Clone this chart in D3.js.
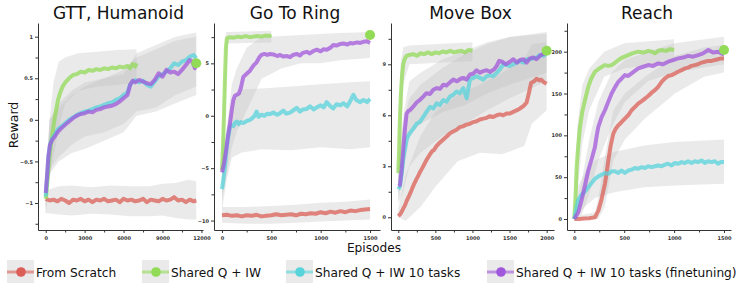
<!DOCTYPE html>
<html>
<head>
<meta charset="utf-8">
<script src="https://cdn.jsdelivr.net/npm/d3@7"></script>
<style>
  body { margin: 0; background: #fff; }
  svg { display: block; font-family: "DejaVu Sans", sans-serif; }
</style>
</head>
<body>
<svg id="chart" width="747" height="296"></svg>
<script>
const seriesNames = ['From Scratch', 'Shared Q + IW', 'Shared Q + IW 10 tasks', 'Shared Q + IW 10 tasks (finetuning)'];
const seriesColors = ['#db5f57', '#91db57', '#57d3db', '#a157db'];
const panelTitles = ['GTT, Humanoid', 'Go To Ring', 'Move Box', 'Reach'];

// ---- GTT, Humanoid : [episode, reward] and bands [episode, low, high]
const gttScratch = [[0,-0.95],[300,-0.97],[600,-0.96],[900,-0.98],[1200,-0.95],[1500,-0.97],[1800,-1.0],[2100,-0.96],[2400,-0.97],[2700,-0.95],[3000,-0.98],[3300,-0.96],[3600,-0.99],[3900,-0.96],[4200,-0.97],[4500,-0.95],[4800,-0.98],[5100,-0.97],[5400,-0.96],[5700,-0.99],[6000,-0.95],[6300,-0.97],[6600,-0.96],[6900,-0.98],[7200,-0.97],[7500,-0.95],[7800,-0.99],[8100,-0.96],[8400,-0.97],[8700,-0.98],[9000,-0.95],[9300,-0.97],[9600,-0.96],[9900,-0.93],[10200,-0.97],[10500,-0.96],[10800,-0.99],[11100,-0.96],[11400,-0.98],[11600,-0.97]];
const gttScratchBand = [[0,-1.12,-0.85],[1000,-1.14,-0.8],[2000,-1.15,-0.79],[3500,-1.13,-0.81],[5000,-1.14,-0.79],[6500,-1.16,-0.8],[8000,-1.16,-0.8],[9000,-1.15,-0.77],[10000,-1.18,-0.76],[11000,-1.2,-0.72],[11600,-1.2,-0.74]];
const gttShared = [[0,-0.95],[100,-0.8],[200,-0.6],[300,-0.42],[400,-0.3],[500,-0.18],[650,-0.02],[800,0.12],[950,0.24],[1100,0.32],[1300,0.4],[1500,0.45],[1800,0.5],[2100,0.54],[2400,0.55],[2700,0.58],[3000,0.57],[3300,0.6],[3600,0.59],[3900,0.61],[4200,0.6],[4500,0.62],[4800,0.61],[5100,0.63],[5400,0.62],[5700,0.64],[6000,0.63],[6300,0.65],[6500,0.62],[6700,0.67],[6900,0.64],[7000,0.68]];
const gttSharedBand = [[0,-1.05,-0.8],[300,-0.7,0.0],[600,-0.45,0.45],[1000,-0.1,0.7],[1500,0.2,0.75],[2500,0.35,0.8],[4000,0.4,0.82],[5500,0.42,0.84],[7000,0.45,0.85]];
const gttTen = [[0,-0.92],[100,-0.7],[200,-0.45],[330,-0.3],[500,-0.22],[700,-0.18],[900,-0.12],[1200,-0.08],[1500,-0.04],[1800,0.0],[2100,0.03],[2400,0.06],[2700,0.08],[3000,0.1],[3300,0.11],[3600,0.13],[3900,0.15],[4200,0.16],[4500,0.18],[4800,0.2],[5100,0.21],[5400,0.24],[5700,0.26],[6000,0.3],[6300,0.33],[6500,0.42],[6700,0.46],[6900,0.48],[7200,0.45],[7500,0.47],[7800,0.42],[8100,0.4],[8400,0.46],[8700,0.52],[9000,0.55],[9300,0.58],[9600,0.62],[9900,0.68],[10200,0.66],[10500,0.7],[10800,0.72],[11100,0.76],[11400,0.78],[11600,0.74]];
const gttTenBand = [[0,-1.1,-0.75],[300,-0.6,0.0],[1000,-0.45,0.15],[2000,-0.3,0.3],[3000,-0.2,0.4],[4500,-0.15,0.5],[6000,-0.05,0.6],[7000,0.1,0.75],[8500,0.15,0.85],[10000,0.3,0.95],[11600,0.4,1.0]];
const gttFinetune = [[0,-0.88],[100,-0.68],[200,-0.45],[330,-0.3],[500,-0.24],[700,-0.2],[900,-0.15],[1200,-0.1],[1500,-0.06],[1800,-0.02],[2100,0.02],[2400,0.05],[2700,0.07],[3000,0.08],[3300,0.1],[3600,0.09],[3900,0.12],[4200,0.13],[4500,0.15],[4800,0.16],[5100,0.17],[5400,0.19],[5700,0.22],[6000,0.26],[6300,0.3],[6500,0.42],[6700,0.47],[6900,0.45],[7200,0.48],[7500,0.46],[7800,0.44],[8100,0.43],[8400,0.48],[8700,0.56],[9000,0.52],[9300,0.6],[9600,0.57],[9900,0.58],[10200,0.55],[10500,0.6],[10800,0.66],[11100,0.72],[11300,0.7],[11500,0.62],[11600,0.68]];
const gttFinetuneBand = [[0,-1.15,-0.7],[300,-0.65,0.0],[1000,-0.5,0.2],[2000,-0.4,0.35],[3000,-0.35,0.45],[4500,-0.25,0.5],[6000,-0.15,0.55],[7000,0.05,0.8],[8500,0.1,0.9],[10000,0.2,1.0],[11600,0.3,1.05]];

// ---- Go To Ring
const ringScratch = [[0,-9.5],[50,-9.45],[100,-9.55],[150,-9.5],[200,-9.6],[250,-9.5],[300,-9.55],[350,-9.45],[400,-9.6],[450,-9.55],[500,-9.5],[550,-9.4],[600,-9.5],[650,-9.45],[700,-9.4],[750,-9.5],[800,-9.35],[850,-9.4],[900,-9.3],[950,-9.35],[1000,-9.2],[1050,-9.3],[1100,-9.15],[1150,-9.25],[1200,-9.1],[1250,-9.2],[1300,-9.05],[1350,-9.1],[1400,-9.0],[1450,-8.95],[1500,-8.9]];
const ringScratchBand = [[0,-10.2,-8.7],[250,-10.3,-8.7],[500,-10.3,-8.6],[750,-10.2,-8.5],[1000,-10.1,-8.3],[1250,-10.0,-8.2],[1500,-9.9,-8.0]];
const ringShared = [[0,-5.2],[10,-3],[20,0],[30,3.5],[40,6.5],[50,7.4],[80,7.5],[120,7.45],[160,7.55],[200,7.5],[240,7.6],[280,7.5],[320,7.55],[360,7.6],[400,7.55],[440,7.65],[480,7.6],[500,7.7]];
const ringSharedBand = [[0,-7.5,-3],[20,-4,3],[40,3,8],[60,6.9,8.0],[500,7.0,8.1]];
const ringTen = [[0,-7.0],[15,-6.0],[30,-4.8],[46,-3.2],[60,-2.2],[81,-1.1],[100,-0.9],[115,-1.0],[130,-0.7],[150,-0.55],[170,-0.8],[190,-0.6],[216,-0.7],[250,-0.5],[284,-0.4],[310,-0.2],[330,0.0],[351,0.4],[370,-0.1],[400,0.1],[430,0.0],[460,0.2],[486,0.15],[520,0.3],[560,0.1],[588,0.25],[622,0.5],[650,0.2],[689,0.3],[720,0.5],[757,0.75],[790,0.4],[820,0.6],[858,0.65],[892,0.9],[930,0.6],[960,0.8],[1000,1.0],[1030,0.8],[1061,1.3],[1100,0.9],[1128,0.7],[1160,1.1],[1200,1.0],[1230,1.2],[1270,0.9],[1300,1.4],[1331,2.0],[1360,1.5],[1400,1.3],[1433,1.5],[1470,1.3],[1500,1.6]];
const ringTenBand = [[0,-9,-5],[50,-6,-1.5],[100,-4,1.5],[200,-3.5,2.5],[400,-3.2,2.6],[700,-3.3,2.8],[1000,-3.0,3.0],[1300,-3.2,3.2],[1500,-3.0,3.3]];
const ringFinetune = [[0,-5.4],[15,-4.8],[30,-4.0],[46,-3.0],[60,-2.0],[81,-0.7],[100,0.6],[115,1.5],[130,1.9],[150,2.0],[170,2.1],[190,2.6],[216,3.7],[250,4.0],[284,4.3],[320,4.8],[351,5.1],[380,5.6],[400,5.8],[430,5.9],[460,5.8],[486,5.9],[520,5.85],[560,5.7],[588,5.8],[620,5.65],[660,5.7],[689,5.6],[720,5.8],[757,5.9],[790,5.75],[820,6.0],[858,6.1],[890,5.95],[930,6.2],[960,6.3],[1000,6.15],[1030,6.35],[1061,6.3],[1100,6.5],[1128,6.75],[1160,6.7],[1200,6.85],[1230,6.9],[1270,6.8],[1300,6.95],[1331,6.9],[1370,7.0],[1400,6.95],[1433,7.06],[1470,7.1],[1500,6.95]];
const ringFinetuneBand = [[0,-8,-3.5],[50,-5.5,-1],[100,-3,3],[150,-1.5,4.5],[250,0.5,6.5],[400,3.5,7.5],[600,4.5,7.6],[800,5.0,7.7],[1000,5.0,7.8],[1200,5.3,7.9],[1500,5.5,8.0]];

// ---- Move Box
const boxScratch = [[0,0.07],[30,0.2],[60,0.45],[90,0.7],[112,0.95],[150,1.3],[180,1.6],[202,1.85],[240,2.2],[270,2.45],[292,2.65],[330,2.95],[360,3.2],[382,3.38],[420,3.65],[460,3.9],[480,3.95],[517,4.2],[550,4.35],[600,4.55],[652,4.75],[700,4.95],[740,5.05],[786,5.15],[830,5.3],[870,5.35],[920,5.45],[966,5.5],[1010,5.6],[1056,5.65],[1100,5.75],[1146,5.8],[1191,5.85],[1236,5.95],[1280,5.9],[1326,6.0],[1370,6.05],[1415,6.0],[1460,6.1],[1505,6.1],[1550,6.2],[1600,6.3],[1640,6.4],[1690,6.55],[1730,6.75],[1760,7.3],[1790,7.9],[1830,8.0],[1865,8.15],[1900,8.05],[1925,8.1],[1960,7.95],[2000,7.85]];
const boxScratchBand = [[0,0,0.5],[100,-0.2,2.5],[300,0.6,4.8],[500,1.8,6.2],[800,3.3,7.2],[1100,3.8,7.8],[1400,3.7,8.5],[1700,4.2,9.3],[1800,5.5,10.2],[2000,6.3,10.3]];
const boxShared = [[0,2.6],[10,3.8],[20,5.5],[35,7.2],[50,8.3],[67,9.0],[85,9.3],[112,9.5],[150,9.55],[200,9.6],[250,9.5],[300,9.65],[350,9.6],[400,9.7],[450,9.6],[500,9.7],[550,9.65],[600,9.75],[650,9.7],[700,9.8],[750,9.7],[800,9.75],[850,9.8],[900,9.7],[950,9.85],[1000,9.8]];
const boxSharedBand = [[0,1.5,3.8],[30,4,9],[67,7.8,10.0],[150,9.0,10.1],[1000,9.2,10.3]];
const boxTen = [[0,1.65],[22,1.8],[45,2.5],[67,3.4],[90,4.0],[112,4.55],[135,4.8],[157,4.95],[200,5.2],[247,5.5],[290,5.6],[337,5.9],[380,6.2],[427,6.5],[472,6.4],[517,6.7],[560,6.6],[607,6.9],[650,6.8],[697,7.1],[740,7.2],[786,7.4],[830,7.3],[876,7.6],[900,7.3],[921,7.0],[945,7.6],[966,8.1],[1010,8.2],[1056,8.3],[1100,8.2],[1146,8.1],[1191,8.3],[1236,8.35],[1280,8.3],[1326,8.5],[1370,8.7],[1415,9.0],[1460,8.95],[1505,8.9],[1550,9.0],[1600,9.1],[1640,9.2],[1690,9.1],[1730,9.3],[1775,9.3],[1820,9.35],[1865,9.4],[1910,9.55],[1960,9.5],[2000,9.65]];
const boxTenBand = [[0,0.8,3.0],[67,1.5,5.5],[150,3.0,7.0],[300,3.8,7.8],[600,4.8,8.8],[900,5.5,9.6],[1200,6.3,10.2],[1500,7.0,10.6],[2000,8.0,10.9]];
const boxFinetune = [[0,1.85],[22,1.9],[45,2.8],[67,4.0],[90,5.2],[112,6.1],[135,6.25],[157,6.3],[200,6.5],[247,6.75],[290,6.9],[337,7.1],[380,7.3],[427,7.25],[472,7.5],[520,7.6],[560,7.55],[607,7.8],[650,7.75],[700,7.95],[742,8.1],[790,8.0],[840,8.15],[876,8.2],[920,8.1],[966,8.4],[1010,8.45],[1056,8.65],[1100,8.5],[1146,8.6],[1191,8.65],[1240,8.55],[1290,8.7],[1326,8.9],[1360,9.2],[1400,9.15],[1450,9.0],[1505,9.15],[1550,9.3],[1600,9.1],[1640,9.25],[1690,9.3],[1730,9.1],[1775,9.35],[1820,9.4],[1865,9.3],[1910,9.5],[1950,9.6],[2000,9.7]];
const boxFinetuneBand = [[0,1.0,3.0],[67,2.5,6.0],[150,4.8,8.0],[300,5.5,8.5],[600,6.2,9.3],[900,6.6,9.8],[1200,7.3,10.3],[1500,7.8,10.6],[2000,8.5,10.8]];

// ---- Reach
const reachScratch = [[0,0],[50,0],[100,0.5],[150,1],[207,2],[241,10],[270,22],[307,42],[325,56],[341,70],[365,88],[391,102],[415,108],[441,112],[475,116],[507,120],[540,124],[574,130],[608,134],[640,138],[675,141],[708,144],[740,147],[775,151],[808,154],[840,158],[875,164],[908,168],[940,171],[975,172],[1008,174],[1040,176],[1075,178],[1108,180],[1140,181],[1175,183],[1208,184],[1240,185],[1275,187],[1308,188],[1340,189],[1375,189],[1408,190],[1440,191],[1470,192],[1500,192]];
const reachScratchBand = [[0,0,3],[207,0,8],[241,0,25],[307,15,75],[391,70,130],[507,95,150],[708,120,170],[1008,150,195],[1300,170,205],[1500,175,208]];
const reachShared = [[0,0],[12,25],[24,63],[40,88],[57,110],[80,128],[107,142],[140,158],[170,168],[207,176],[250,180],[307,184],[340,183],[374,184],[410,187],[441,190],[480,193],[541,196],[580,198],[641,200],[690,199],[741,201],[780,200],[807,198],[840,201],[874,202],[920,201],[960,203],[1000,202]];
const reachSharedBand = [[0,0,5],[30,30,110],[80,90,160],[150,130,180],[300,170,200],[500,180,210],[1000,188,215]];
const reachTen = [[0,0],[20,12],[40,23],[74,29],[107,33],[140,38],[174,43],[207,48],[241,51],[275,53],[307,55],[340,54],[374,57],[407,57],[440,55],[475,58],[507,55],[540,58],[574,59],[608,61],[640,60],[675,62],[708,61],[740,63],[775,62],[808,63],[840,64],[875,63],[908,65],[940,66],[975,64],[1008,67],[1040,66],[1075,68],[1108,67],[1140,69],[1175,67],[1208,69],[1240,68],[1275,70],[1308,67],[1340,69],[1375,68],[1408,69],[1440,66],[1470,68],[1500,68]];
const reachTenBand = [[0,0,4],[40,5,40],[107,15,55],[207,25,70],[400,32,80],[700,38,88],[1000,40,92],[1500,42,95]];
const reachFinetune = [[0,0],[40,8],[74,23],[107,40],[140,58],[175,72],[207,86],[225,100],[241,110],[275,122],[307,130],[340,140],[374,150],[410,158],[441,164],[475,168],[507,172],[540,171],[574,174],[607,177],[641,180],[690,182],[741,184],[790,183],[841,186],[890,185],[941,188],[990,190],[1041,192],[1090,193],[1141,195],[1190,194],[1241,196],[1290,198],[1342,202],[1390,199],[1442,200],[1470,198],[1500,197]];
const reachFinetuneBand = [[0,0,5],[74,5,45],[150,30,95],[241,70,140],[374,110,175],[507,140,190],[741,165,200],[1000,175,210],[1500,185,218]];

// ---- ticks
const gttXTicks = [0, 3000, 6000, 9000, 12000];
const gttYTicks = [-1, -0.5, 0, 0.5, 1];
const ringXTicks = [0, 500, 1000, 1500];
const ringYTicks = [-10, -5, 0, 5];
const boxXTicks = [0, 500, 1000, 1500, 2000];
const boxYTicks = [0, 3, 6, 9];
const reachXTicks = [0, 500, 1000, 1500];
const reachYTicks = [0, 50, 100, 150, 200];

const panels = [
  { title: panelTitles[0], left: 38, right: 203, xDomain: [-595, 12120], yDomain: [-1.325, 1.165],
    xTicks: gttXTicks, xStep: 1500, yTicks: gttYTicks, yStep: 0.25,
    series: [[gttScratch, gttScratchBand], [gttShared, gttSharedBand], [gttTen, gttTenBand], [gttFinetune, gttFinetuneBand]] },
  { title: panelTitles[1], left: 214, right: 380, xDomain: [-81, 1601], yDomain: [-10.9, 8.85],
    xTicks: ringXTicks, xStep: 250, yTicks: ringYTicks, yStep: 2.5,
    series: [[ringScratch, ringScratchBand], [ringShared, ringSharedBand], [ringTen, ringTenBand], [ringFinetune, ringFinetuneBand]] },
  { title: panelTitles[2], left: 391, right: 554, xDomain: [-98, 2099], yDomain: [-0.75, 11.43],
    xTicks: boxXTicks, xStep: 250, yTicks: boxYTicks, yStep: 1.5,
    series: [[boxScratch, boxScratchBand], [boxShared, boxSharedBand], [boxTen, boxTenBand], [boxFinetune, boxFinetuneBand]] },
  { title: panelTitles[3], left: 567, right: 731, xDomain: [-73, 1570], yDomain: [-13.15, 234.3],
    xTicks: reachXTicks, xStep: 250, yTicks: reachYTicks, yStep: 25,
    series: [[reachScratch, reachScratchBand], [reachShared, reachSharedBand], [reachTen, reachTenBand], [reachFinetune, reachFinetuneBand]] }
];

const svg = d3.select('#chart');
const plotTop = 23, plotBottom = 230;
const fmt = d => String(d).replace('-', '\u2212');

function minorTicks(domain, step) {
  const out = [];
  for (let v = Math.ceil(domain[0] / step) * step; v <= domain[1]; v += step) out.push(+v.toFixed(6));
  return out;
}

function styleAxis(g) {
  g.selectAll('path, line').attr('stroke', '#333').attr('stroke-width', 1);
  g.selectAll('text').attr('font-size', 5).attr('font-weight', 'bold').attr('fill', '#333')
    .attr('font-family', '"DejaVu Sans", sans-serif');
}

function drawPanel(p) {
  const x = d3.scaleLinear().domain(p.xDomain).range([p.left, p.right]);
  const y = d3.scaleLinear().domain(p.yDomain).range([plotBottom, plotTop]);
  const g = svg.append('g');

  const area = d3.area().x(d => x(d[0])).y0(d => y(d[1])).y1(d => y(d[2]));
  const line = d3.line().x(d => x(d[0])).y(d => y(d[1]));

  p.series.forEach(([, band]) => {
    g.append('path').attr('d', area(band)).attr('fill', '#bdbdbd').attr('fill-opacity', 0.32);
  });
  p.series.forEach(([mean], i) => {
    g.append('path').attr('d', line(mean))
      .attr('fill', 'none')
      .attr('stroke', seriesColors[i])
      .attr('stroke-width', 4)
      .attr('stroke-opacity', 0.75)
      .attr('stroke-linejoin', 'round');
  });

  // final value of Shared Q + IW, marked at the end of the run
  const shared = p.series[1][0], fine = p.series[3][0];
  g.append('circle')
    .attr('cx', x(fine[fine.length - 1][0]))
    .attr('cy', y(shared[shared.length - 1][1]))
    .attr('r', 5)
    .attr('fill', seriesColors[1]);

  const minorX = minorTicks(p.xDomain, p.xStep).filter(v => !p.xTicks.includes(v) && v >= 0);
  const minorY = minorTicks(p.yDomain, p.yStep).filter(v => !p.yTicks.includes(v));

  g.append('g').attr('transform', `translate(0,${plotBottom})`)
    .call(d3.axisBottom(x).tickValues(minorX).tickSize(2.5).tickSizeOuter(0).tickFormat(''))
    .call(a => a.select('.domain').remove()).call(styleAxis);
  g.append('g').attr('transform', `translate(${p.left},0)`)
    .call(d3.axisLeft(y).tickValues(minorY).tickSize(2.5).tickSizeOuter(0).tickFormat(''))
    .call(a => a.select('.domain').remove()).call(styleAxis);

  g.append('g').attr('transform', `translate(0,${plotBottom})`)
    .call(d3.axisBottom(x).tickValues(p.xTicks).tickSize(3).tickSizeOuter(0).tickPadding(3).tickFormat(fmt))
    .call(styleAxis);
  g.append('g').attr('transform', `translate(${p.left},0)`)
    .call(d3.axisLeft(y).tickValues(p.yTicks).tickSize(3).tickSizeOuter(0).tickPadding(2).tickFormat(fmt))
    .call(styleAxis);

  g.append('text')
    .attr('x', (p.left + p.right) / 2 - 2)
    .attr('y', 18.5)
    .attr('text-anchor', 'middle')
    .attr('font-size', 17)
    .attr('fill', '#111')
    .text(p.title);
}

panels.forEach(drawPanel);

svg.append('text')
  .attr('transform', 'translate(18,125) rotate(-90)')
  .attr('text-anchor', 'middle')
  .attr('font-size', 12.5)
  .attr('fill', '#111')
  .text('Reward');

svg.append('text')
  .attr('x', 374).attr('y', 251.5)
  .attr('text-anchor', 'middle')
  .attr('font-size', 12.2)
  .attr('fill', '#111')
  .text('Episodes');

// legend
const legendX = [7, 142, 286, 487];
const legend = svg.append('g');
seriesNames.forEach((name, i) => {
  const lx = legendX[i];
  legend.append('rect').attr('x', lx).attr('y', 260).attr('width', 27).attr('height', 23).attr('fill', '#eaeaea');
  legend.append('line').attr('x1', lx).attr('x2', lx + 27).attr('y1', 272).attr('y2', 272)
    .attr('stroke', seriesColors[i]).attr('stroke-width', 3).attr('stroke-opacity', 0.6);
  legend.append('circle').attr('cx', lx + 14).attr('cy', 272).attr('r', 4.8).attr('fill', seriesColors[i]);
  legend.append('text').attr('x', lx + 29).attr('y', 276.5)
    .attr('font-size', 12.2).attr('fill', '#111').text(name);
});
</script>
</body>
</html>
